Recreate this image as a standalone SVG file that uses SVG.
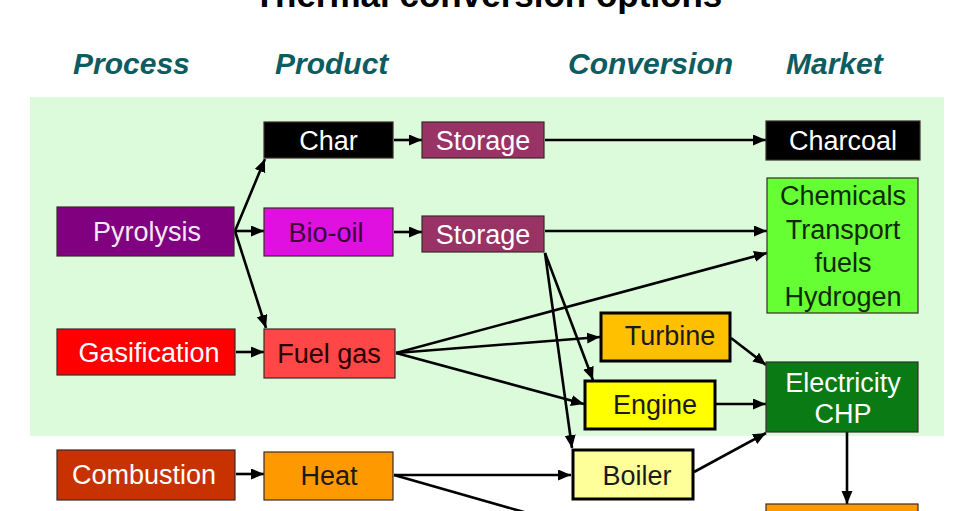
<svg xmlns="http://www.w3.org/2000/svg" width="975" height="511" viewBox="0 0 975 511">
<style>
  text { font-family: "Liberation Sans", Arial, sans-serif; }
  .title { font-size: 35px; font-weight: bold; fill: #000; }
  .hdr { font-size: 30px; font-weight: bold; font-style: italic; fill: #0d5c60; }
  .lbl { font-size: 27px; text-anchor: middle; }
  .w { fill: #ffffff; }
  .d { fill: #1a1a1a; }
  .box { stroke: #3a2a2a; stroke-width: 1.2; }
  .thick { stroke: #000; stroke-width: 3; }
  .conn path { fill: none; stroke: #000; stroke-width: 2.6; marker-end: url(#ah); }
</style>
<defs>
  <marker id="ah" markerUnits="userSpaceOnUse" markerWidth="14" markerHeight="12" refX="13" refY="5.5" orient="auto">
    <path d="M0,0 L13,5.5 L0,11 z" fill="#000"/>
  </marker>
</defs>
<rect width="975" height="511" fill="#ffffff"/>
<text class="title" x="488" y="7" text-anchor="middle">Thermal conversion options</text>
<g id="headers">
  <text class="hdr" x="73" y="74">Process</text>
  <text class="hdr" x="275" y="74">Product</text>
  <text class="hdr" x="568" y="74">Conversion</text>
  <text class="hdr" x="786" y="74">Market</text>
</g>
<rect id="panel" x="30" y="97" width="914" height="339" fill="#dbfbdb"/>

<g class="conn" id="connectors">
  <path d="M235,231 L265,159"/>
  <path d="M235,231 L264,231"/>
  <path d="M235,231 L266,328"/>
  <path d="M394,140 L422,140"/>
  <path d="M394,232 L422,232"/>
  <path d="M545,140 L766,140"/>
  <path d="M545,231 L767,231"/>
  <path d="M545,253 L593,380"/>
  <path d="M545,253 L572,448"/>
  <path d="M396,353 L767,253"/>
  <path d="M396,353 L600,337"/>
  <path d="M396,353 L584,404"/>
  <path d="M731,338 L766,365"/>
  <path d="M716,404 L766,404"/>
  <path d="M694,472 L766,433"/>
  <path d="M847,432 L847,504"/>
  <path d="M236,352 L264,352"/>
  <path d="M236,474 L264,474"/>
  <path d="M394,475 L571,475"/>
  <path d="M394,475 L580,528" style="marker-end:none"/>
</g>

<g id="char"><rect class="box" x="264" y="122" width="129" height="36" fill="#000000"/><text class="lbl w" x="328.5" y="150">Char</text></g>
<g id="storage1"><rect class="box" x="422" y="122" width="122" height="36" fill="#993366"/><text class="lbl w" x="483" y="150">Storage</text></g>
<g id="charcoal"><rect class="box" x="766" y="121" width="154" height="39" fill="#000000"/><text class="lbl w" x="843" y="150">Charcoal</text></g>
<g id="pyrolysis"><rect class="box" x="57" y="207" width="177" height="49" fill="#800080"/><text class="lbl" x="147" y="241" fill="#f4e8f4">Pyrolysis</text></g>
<g id="biooil"><rect class="box" x="264" y="208" width="129" height="48" fill="#e010e0"/><text class="lbl" x="326" y="242" fill="#3a003a">Bio-oil</text></g>
<g id="storage2"><rect class="box" x="422" y="216" width="122" height="36" fill="#993366"/><text class="lbl w" x="483" y="244">Storage</text></g>
<g id="chemicals"><rect class="box" x="767" y="178" width="151" height="135" fill="#66ff33" stroke="#2a6a1a"/>
  <text class="lbl" x="843" y="205" fill="#102a08">Chemicals</text>
  <text class="lbl" x="843" y="239" fill="#102a08">Transport</text>
  <text class="lbl" x="843" y="272" fill="#102a08">fuels</text>
  <text class="lbl" x="843" y="306" fill="#102a08">Hydrogen</text></g>
<g id="gasification"><rect class="box" x="57" y="329" width="178" height="46" fill="#ff0000"/><text class="lbl w" x="149" y="362">Gasification</text></g>
<g id="fuelgas"><rect class="box" x="264" y="329" width="131" height="49" fill="#ff4747"/><text class="lbl" x="329" y="363" fill="#2a0000">Fuel gas</text></g>
<g id="turbine"><rect class="thick" x="601" y="313" width="129" height="48" fill="#ffc000"/><text class="lbl d" x="670" y="345">Turbine</text></g>
<g id="engine"><rect class="thick" x="585" y="381" width="130" height="48" fill="#ffff00"/><text class="lbl d" x="655" y="414">Engine</text></g>
<g id="electricity"><rect class="box" x="766" y="362" width="152" height="70" fill="#0a7a14"/>
  <text class="lbl w" x="843" y="392">Electricity</text>
  <text class="lbl w" x="843" y="423">CHP</text></g>
<g id="combustion"><rect class="box" x="57" y="450" width="178" height="50" fill="#c83200"/><text class="lbl w" x="144" y="484">Combustion</text></g>
<g id="heat"><rect class="box" x="264" y="452" width="129" height="48" fill="#ff9900"/><text class="lbl d" x="329" y="485">Heat</text></g>
<g id="boiler"><rect class="thick" x="573" y="450" width="120" height="49" fill="#ffff99"/><text class="lbl d" x="637" y="485">Boiler</text></g>
<g id="heatmarket"><rect class="box" x="766" y="504" width="152" height="20" fill="#ff9900" stroke="#5a3000"/></g>
</svg>
